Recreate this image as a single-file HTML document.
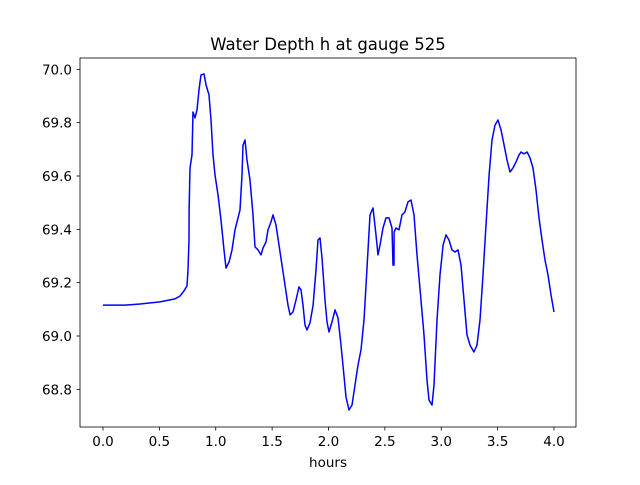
<!DOCTYPE html>
<html><head><meta charset="utf-8"><style>
body{margin:0;background:#fff;font-family:"Liberation Sans","DejaVu Sans",sans-serif;}
svg text{font-family:"DejaVu Sans","Liberation Sans",sans-serif;font-size:13.5px;fill:#000}
</style></head><body>
<svg id="chart" width="640" height="480" xmlns="http://www.w3.org/2000/svg">
<rect width="640" height="480" fill="#fff"/>
<text x="328" y="50" text-anchor="middle" style="font-size:16.5px">Water Depth h at gauge 525</text>
<g id="plot"></g>
<rect x="80" y="58" width="496" height="369" fill="none" stroke="#000" stroke-width="0.8"/>
<text x="328" y="467" text-anchor="middle">hours</text>
</svg>
<script>
const xTicks=[0,0.5,1.0,1.5,2.0,2.5,3.0,3.5,4.0];
const xTickLabels=["0.0","0.5","1.0","1.5","2.0","2.5","3.0","3.5","4.0"];
const yTicks=[68.8,69.0,69.2,69.4,69.6,69.8,70.0];
const yTickLabels=["68.8","69.0","69.2","69.4","69.6","69.8","70.0"];
const hours=[0,.195,.328,.505,.639,.683,.718,.745,.754,.763,.764,.772,.789,.798,.816,.834,.851,.869,.896,.914,.940,.958,.976,.993,1.020,1.047,1.073,1.091,1.118,1.144,1.171,1.197,1.215,1.233,1.242,1.259,1.277,1.304,1.330,1.348,1.375,1.401,1.419,1.446,1.463,1.490,1.508,1.534,1.561,1.588,1.614,1.641,1.659,1.685,1.712,1.738,1.756,1.774,1.792,1.809,1.836,1.863,1.889,1.907,1.925,1.942,1.969,1.987,2.004,2.031,2.058,2.084,2.111,2.137,2.155,2.182,2.208,2.235,2.262,2.288,2.315,2.341,2.368,2.395,2.421,2.439,2.457,2.483,2.510,2.537,2.563,2.572,2.581,2.582,2.599,2.625,2.652,2.678,2.705,2.732,2.758,2.785,2.812,2.847,2.874,2.891,2.918,2.936,2.962,2.989,3.016,3.042,3.069,3.095,3.122,3.149,3.175,3.202,3.228,3.255,3.290,3.317,3.344,3.370,3.397,3.424,3.450,3.477,3.503,3.530,3.557,3.583,3.610,3.636,3.663,3.690,3.707,3.734,3.761,3.787,3.814,3.840,3.867,3.894,3.920,3.947,3.973,4.000];
const depth=[69.116,69.116,69.120,69.128,69.139,69.150,69.169,69.188,69.248,69.360,69.473,69.630,69.679,69.840,69.818,69.848,69.923,69.979,69.983,69.941,69.904,69.810,69.679,69.604,69.529,69.435,69.323,69.255,69.278,69.323,69.398,69.443,69.473,69.604,69.716,69.735,69.660,69.585,69.454,69.334,69.323,69.304,69.330,69.353,69.398,69.428,69.454,69.416,69.341,69.266,69.191,69.116,69.079,69.090,69.135,69.184,69.173,69.116,69.041,69.023,69.049,69.116,69.248,69.360,69.368,69.293,69.135,69.053,69.015,69.053,69.098,69.068,68.966,68.854,68.771,68.723,68.741,68.816,68.891,68.948,69.060,69.248,69.454,69.480,69.379,69.304,69.341,69.405,69.443,69.443,69.405,69.266,69.266,69.390,69.405,69.398,69.454,69.465,69.503,69.510,69.454,69.304,69.173,69.004,68.835,68.760,68.741,68.816,69.060,69.229,69.341,69.379,69.360,69.323,69.315,69.323,69.266,69.135,69.004,68.966,68.940,68.966,69.060,69.229,69.416,69.604,69.735,69.791,69.810,69.773,69.716,69.660,69.615,69.630,69.653,69.679,69.690,69.683,69.690,69.668,69.630,69.548,69.443,69.360,69.285,69.229,69.154,69.090];
const NS="http://www.w3.org/2000/svg";
const g=document.getElementById('plot');
function xs(v){return 103+v*112.75;}
function ys(v){return 336-(v-69.0)*266.67;}
xTicks.forEach((t,i)=>{
  const l=document.createElementNS(NS,'line');
  l.setAttribute('x1',xs(t));l.setAttribute('x2',xs(t));l.setAttribute('y1',427);l.setAttribute('y2',430.5);l.setAttribute('stroke','#000');l.setAttribute('stroke-width','0.8');
  
  
  g.appendChild(l);
  const tx=document.createElementNS(NS,'text');
  tx.setAttribute('x',xs(t));tx.setAttribute('y',446);tx.setAttribute('text-anchor','middle');tx.textContent=xTickLabels[i];
  
  
  g.appendChild(tx);
});
yTicks.forEach((t,i)=>{
  const l=document.createElementNS(NS,'line');
  l.setAttribute('x1',76.5);l.setAttribute('x2',80);l.setAttribute('y1',ys(t));l.setAttribute('y2',ys(t));l.setAttribute('stroke','#000');l.setAttribute('stroke-width','0.8');
  
  
  g.appendChild(l);
  const tx=document.createElementNS(NS,'text');
  tx.setAttribute('x',72);tx.setAttribute('y',ys(t)+5);tx.setAttribute('text-anchor','end');tx.textContent=yTickLabels[i];
  
  
  g.appendChild(tx);
});
const p=document.createElementNS(NS,'polyline');
p.setAttribute('points',hours.map((h,i)=>xs(h).toFixed(1)+','+ys(depth[i]).toFixed(1)).join(' '));
p.setAttribute('fill','none');p.setAttribute('stroke','#0000ff');p.setAttribute('stroke-width','1.5');p.setAttribute('stroke-linejoin','round');


g.appendChild(p);
</script>
</body></html>
